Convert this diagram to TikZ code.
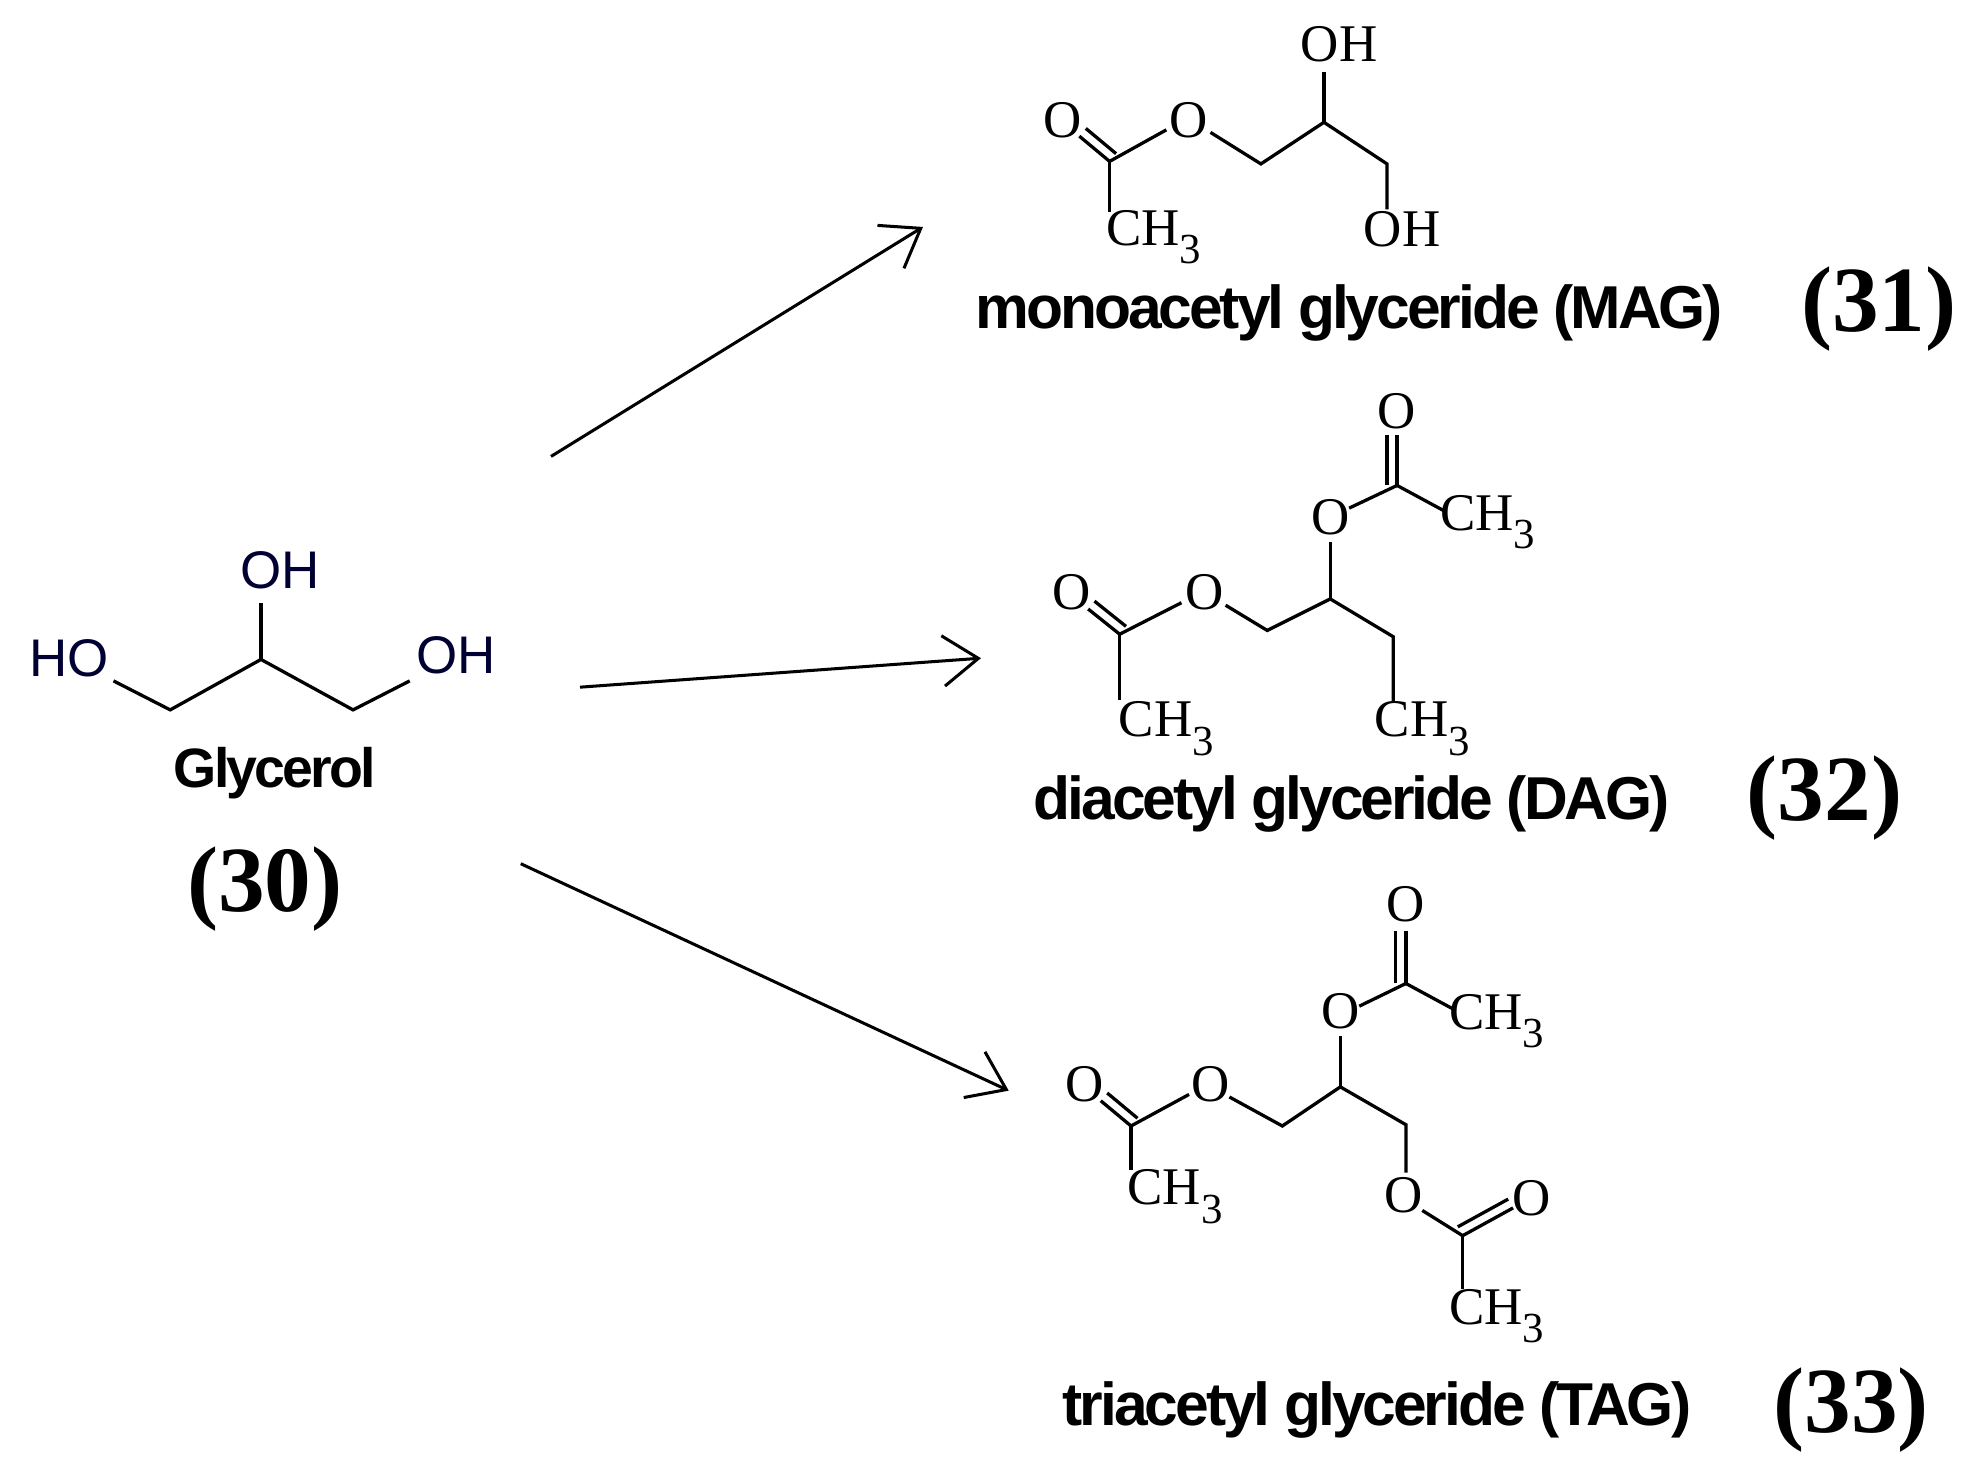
\documentclass[tikz,border=0pt]{standalone}
\usepackage{fontspec}
\setmainfont{Liberation Serif}
\newfontfamily\labf{Liberation Sans}[LetterSpace=-5]
\newfontfamily\arialf{Liberation Sans}
\usetikzlibrary{calc,arrows.meta}
\begin{document}
\begin{tikzpicture}[x=0.5pt,y=-0.5pt,
  bond/.style={line width=1.3pt},
  xatom/.style={inner sep=0pt,font=\fontsize{21}{21}\selectfont},
  xgatom/.style={inner sep=0pt,font=\arialf\fontsize{21}{21}\selectfont,text=black!80!blue},
  xname/.style={inner sep=0pt,font=\labf\bfseries\fontsize{24}{24}\selectfont},
  xnum/.style={inner sep=0pt,font=\bfseries\fontsize{37}{37}\selectfont},
  arr/.style={line width=1.2pt,-{Straight Barb[length=14pt,width=20pt,line width=1.2pt]}}]
\newcommand\dbl[2]{\draw[bond] #1 -- #2; \draw[bond] ($#1!4pt!90:#2$) -- ($#2!4pt!-90:#1$);}
\newcommand\methyl{CH\raisebox{-0.35em}{\fontsize{17}{17}\selectfont 3}}
\useasboundingbox (0,0) rectangle (1560,1170);
% Glycerol
\node[xgatom] (g1) at (55,522) {HO};
\node[xgatom] (g2) at (222,452) {OH};
\node[xgatom] (g3) at (362,520) {OH};
\draw[bond] (90,540) -- (135,563) -- (207,523) -- (280,563) -- (325,540);
\draw[bond] (207,523) -- (207,478);
\node[xname,font=\labf\bfseries\fontsize{22}{22}\selectfont] (gl) at (218,613) {Glycerol};
\node[xnum] (n30) at (210,705) {(30)};
\coordinate (s1) at (437,362); \coordinate (e1) at (732,180);
\coordinate (s2) at (460,545); \coordinate (e2) at (778,522);
\coordinate (s3) at (413,685); \coordinate (e3) at (800,865);
\draw[arr] (s1) -- (e1);
\draw[arr] (s2) -- (e2);
\draw[arr] (s3) -- (e3);
% MAG
\node[xatom] (m1) at (843,95) {O};
\node[xatom] (m2) at (943,95) {O};
\node[xatom] (m3) at (1062,35) {OH};
\node[xatom] (m4) at (1112,182) {OH};
\node[xatom] (m5) at (915,188) {\methyl};
\dbl{(856,108)}{(880,128)}
\draw[bond] (880,128) -- (925,103);
\draw[bond] (880,128) -- (880,168);
\draw[bond] (960,105) -- (1000,130) -- (1050,97) -- (1100,130) -- (1100,166);
\draw[bond] (1050,97) -- (1050,57);
\node[xname] (mn) at (1070,248) {monoacetyl glyceride (MAG)};
\node[xnum] (n31) at (1490,245) {(31)};
% DAG
\node[xatom] (d1) at (1108,326) {O};
\node[xatom] (d2) at (1055,410) {O};
\node[xatom] (d3) at (1180,414) {\methyl};
\node[xatom] (d4) at (850,470) {O};
\node[xatom] (d5) at (955,470) {O};
\node[xatom] (d6) at (925,578) {\methyl};
\node[xatom] (d7) at (1128,578) {\methyl};
\dbl{(1108,385)}{(1108,345)}
\draw[bond] (1108,385) -- (1145,405);
\draw[bond] (1108,385) -- (1070,403);
\draw[bond] (1055,430) -- (1055,475);
\dbl{(863,483)}{(888,503)}
\draw[bond] (888,503) -- (937,478);
\draw[bond] (888,503) -- (888,555);
\draw[bond] (972,480) -- (1005,500) -- (1055,475) -- (1105,505) -- (1105,556);
\node[xname] (dn) at (1072,638) {diacetyl glyceride (DAG)};
\node[xnum] (n32) at (1447,633) {(32)};
% TAG
\node[xatom] (t1) at (1115,717) {O};
\node[xatom] (t2) at (1063,802) {O};
\node[xatom] (t3) at (1187,810) {\methyl};
\node[xatom] (t4) at (860,860) {O};
\node[xatom] (t5) at (960,860) {O};
\node[xatom] (t6) at (932,949) {\methyl};
\node[xatom] (t7) at (1113,948) {O};
\node[xatom] (t8) at (1215,950) {O};
\node[xatom] (t9) at (1187,1044) {\methyl};
\dbl{(1115,780)}{(1115,738)}
\draw[bond] (1115,780) -- (1152,800);
\draw[bond] (1115,780) -- (1078,798);
\draw[bond] (1063,822) -- (1063,862);
\dbl{(873,873)}{(897,893)}
\draw[bond] (897,893) -- (943,868);
\draw[bond] (897,893) -- (897,928);
\draw[bond] (975,870) -- (1017,893) -- (1063,862) -- (1115,892) -- (1115,930);
\draw[bond] (1128,960) -- (1160,980);
\dbl{(1160,980)}{(1200,958)}
\draw[bond] (1160,980) -- (1160,1022);
\node[xname] (tn) at (1092,1118) {triacetyl glyceride (TAG)};
\node[xnum] (n33) at (1468,1118) {(33)};
\end{tikzpicture}
\end{document}
